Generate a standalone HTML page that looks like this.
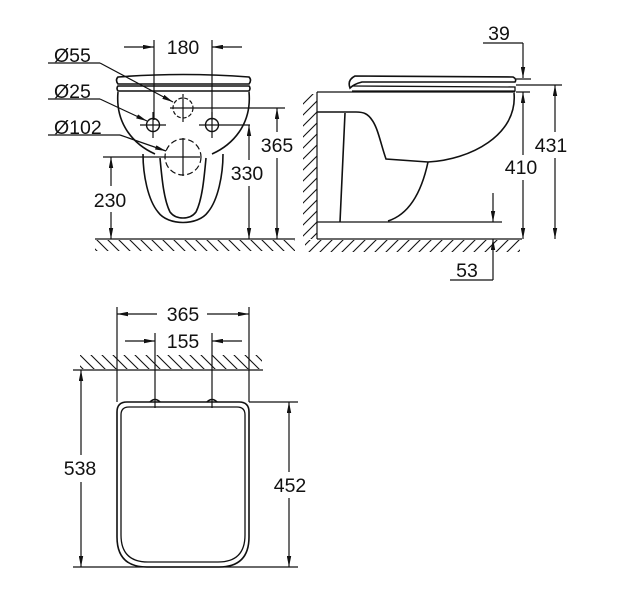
<!DOCTYPE html>
<html><head><meta charset="utf-8"><style>
html,body{margin:0;padding:0;background:#fff}
svg{display:block}
text{font-family:"Liberation Sans",sans-serif;font-size:19.5px;fill:#111}
</style></head><body>
<svg width="619" height="600" viewBox="0 0 619 600" xmlns="http://www.w3.org/2000/svg">
<defs>
<marker id="a" viewBox="0 0 10 4" refX="10" refY="2" markerWidth="11" markerHeight="4.5" markerUnits="userSpaceOnUse" orient="auto"><path d="M0,0 L10,2 L0,4z" fill="#111"/></marker>
<pattern id="hb" width="11" height="11" patternUnits="userSpaceOnUse"><path d="M0,0 L11,11 M-5.5,5.5 L5.5,16.5 M5.5,-5.5 L16.5,5.5" stroke="#111" stroke-width="1.1"/></pattern>
<pattern id="hf" width="11" height="11" patternUnits="userSpaceOnUse"><path d="M0,11 L11,0 M-5.5,5.5 L5.5,-5.5 M5.5,16.5 L16.5,5.5" stroke="#111" stroke-width="1.1"/></pattern>
</defs>
<g fill="none" stroke="#111" stroke-width="1.2">
<!-- FRONT VIEW -->
<rect x="95" y="240" width="200" height="11" fill="url(#hb)" stroke="none"/>
<line x1="95" y1="239" x2="295" y2="239"/>
<path d="M118,77 Q183,72 249,77 Q252,80 249,84 L118,84 Q115,80 118,77z" stroke-width="1.6"/>
<path d="M118,86 L249,86 Q251,88 249,91 L118,91 Q116,88 118,86z" stroke-width="1.6"/>
<path d="M118,92 C115,125 135,145 155,154 M249,92 C252,125 232,145 212,154" stroke-width="1.6"/>
<path d="M143,154 C143,175 148,200 158,212 C168,226 198,226 208,212 C218,200 223,175 223,154" stroke-width="1.6"/>
<path d="M160,158 C162,180 164,200 170,212 C176,220 190,220 196,212 C202,200 204,180 206,158" stroke-width="1.6"/>
<circle cx="183" cy="108" r="10" stroke-dasharray="4,2"/>
<circle cx="153" cy="125" r="6.5" stroke-width="1.4"/>
<circle cx="212" cy="125" r="6.5" stroke-width="1.4"/>
<circle cx="183" cy="157" r="18" stroke-dasharray="6,3"/>
<path d="M183,94 V122 M170,108 H285 M153,112 V138 M140,125 H166 M212,112 V138 M199,125 H250 M183,138 V176 M103,157 H200"/>
<path d="M154,40 V120 M212,40 V120"/>
<line x1="124" y1="47" x2="154" y2="47" marker-end="url(#a)"/>
<line x1="242" y1="47" x2="212" y2="47" marker-end="url(#a)"/>
<path d="M48,63 H100"/><line x1="100" y1="63" x2="173" y2="102" marker-end="url(#a)"/>
<path d="M48,99 H100"/><line x1="100" y1="99" x2="147" y2="121" marker-end="url(#a)"/>
<path d="M48,135 H120"/><line x1="120" y1="135" x2="166" y2="151" marker-end="url(#a)"/>
<line x1="111" y1="186" x2="111" y2="157" marker-end="url(#a)"/>
<line x1="111" y1="212" x2="111" y2="239" marker-end="url(#a)"/>
<line x1="249" y1="160" x2="249" y2="125" marker-end="url(#a)"/>
<line x1="249" y1="186" x2="249" y2="239" marker-end="url(#a)"/>
<line x1="277" y1="132" x2="277" y2="108" marker-end="url(#a)"/>
<line x1="277" y1="158" x2="277" y2="239" marker-end="url(#a)"/>

<!-- SIDE VIEW -->
<rect x="303" y="94" width="14" height="145" fill="url(#hf)" stroke="none"/>
<rect x="305" y="240" width="215" height="12" fill="url(#hf)" stroke="none"/>
<path d="M317,92 V239 M317,239 H522 M317,222 H502"/>
<path d="M317,92 H515"/>
<path d="M355,76 L513,77 Q517,79 515,82 L362,82 Q354,84 350,88 Q347,80 355,76z" stroke-width="1.6"/>
<path d="M352,86 L515,87 L515,91 L352,91" stroke-width="1.3"/>
<path d="M514,93 C518,135 470,160 428,162 L386,159 C381,145 378,128 372,120 C368,114 364,112 356,112 H317" stroke-width="1.6"/>
<path d="M345,113 L340,222 M428,162 C422,190 410,214 388,221" stroke-width="1.6"/>
<path d="M483,43 H523"/><line x1="523" y1="43" x2="523" y2="78" marker-end="url(#a)"/>
<path d="M516,79 H531 M516,85 H562 M516,92 H530"/>
<line x1="523" y1="155" x2="523" y2="92" marker-end="url(#a)"/>
<line x1="523" y1="180" x2="523" y2="239" marker-end="url(#a)"/>
<line x1="555" y1="132" x2="555" y2="85" marker-end="url(#a)"/>
<line x1="555" y1="158" x2="555" y2="239" marker-end="url(#a)"/>
<line x1="493" y1="193" x2="493" y2="222" marker-end="url(#a)"/>
<path d="M450,280 H493"/><line x1="493" y1="280" x2="493" y2="239" marker-end="url(#a)"/>

<!-- TOP VIEW -->
<rect x="80" y="355" width="182" height="14" fill="url(#hb)" stroke="none"/>
<path d="M73,370 H263 M117,307 V402 M249,307 V402 M155,333 V408 M212,333 V408"/>
<line x1="157" y1="314" x2="117" y2="314" marker-end="url(#a)"/>
<line x1="207" y1="314" x2="249" y2="314" marker-end="url(#a)"/>
<line x1="125" y1="341" x2="155" y2="341" marker-end="url(#a)"/>
<line x1="242" y1="341" x2="212" y2="341" marker-end="url(#a)"/>
<path d="M127,402 H239 Q249,402 249,412 V537 Q249,567 219,567 H147 Q117,567 117,537 V412 Q117,402 127,402z" stroke-width="1.6"/>
<path d="M129,407 H237 Q245,407 245,415 V535 Q245,562 218,562 H148 Q121,562 121,535 V415 Q121,407 129,407z" stroke-width="1.3"/>
<path d="M150,402 Q155,397 160,402 M207,402 Q212,397 217,402" stroke-width="1.6"/>
<path d="M73,567 H298 M249,402 H298"/>
<line x1="81" y1="455" x2="81" y2="370" marker-end="url(#a)"/>
<line x1="81" y1="482" x2="81" y2="567" marker-end="url(#a)"/>
<line x1="289" y1="472" x2="289" y2="402" marker-end="url(#a)"/>
<line x1="289" y1="498" x2="289" y2="567" marker-end="url(#a)"/>
</g>
<g>
<text x="183" y="54" text-anchor="middle">180</text>
<text x="54" y="62">Ø55</text>
<text x="54" y="98">Ø25</text>
<text x="54" y="134">Ø102</text>
<text x="110" y="207" text-anchor="middle">230</text>
<text x="247" y="180" text-anchor="middle">330</text>
<text x="277" y="152" text-anchor="middle">365</text>
<text x="499" y="40" text-anchor="middle">39</text>
<text x="551" y="152" text-anchor="middle">431</text>
<text x="521" y="174" text-anchor="middle">410</text>
<text x="467" y="277" text-anchor="middle">53</text>
<text x="183" y="321" text-anchor="middle">365</text>
<text x="183" y="348" text-anchor="middle">155</text>
<text x="80" y="475" text-anchor="middle">538</text>
<text x="290" y="492" text-anchor="middle">452</text>
</g>
</svg>
</body></html>
